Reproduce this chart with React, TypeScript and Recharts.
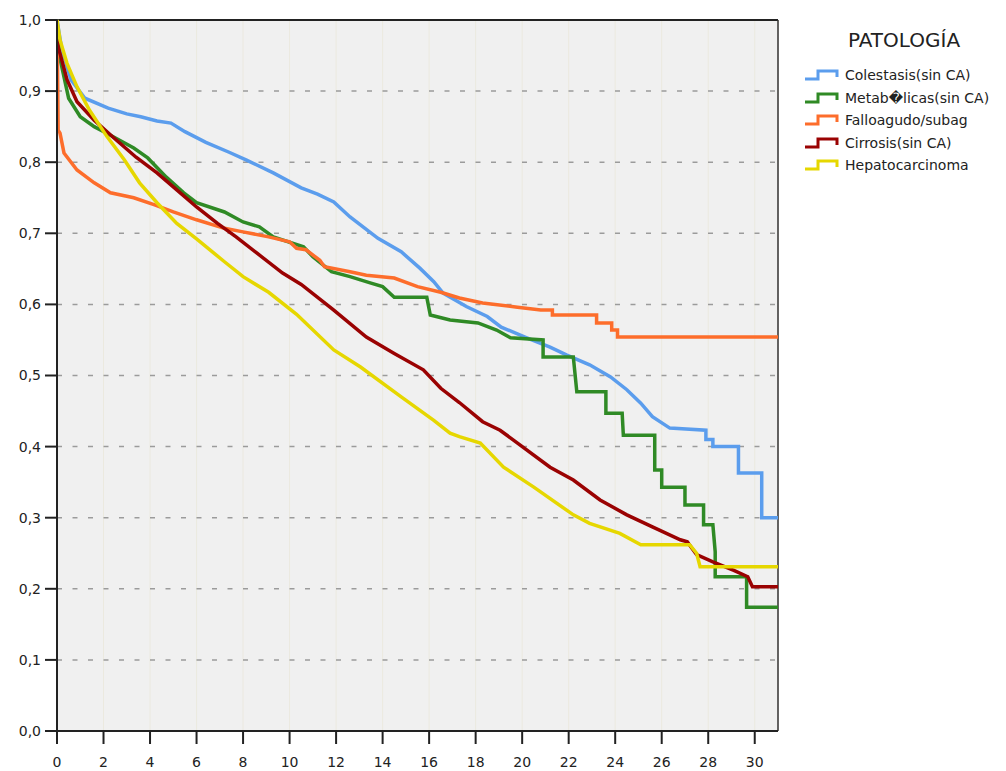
import React from 'react';
import { LineChart, Line, XAxis, YAxis, CartesianGrid, ReferenceLine } from 'recharts';

const SERIES_NAMES = ['Colestasis(sin CA)', 'Metab\uFFFDlicas(sin CA)', 'Falloagudo/subag', 'Cirrosis(sin CA)', 'Hepatocarcinoma'];
const SERIES_COLORS = ['#5b9ded', '#2f8a25', '#fd6d2b', '#9a0202', '#e6d700'];

const X_TICKS = [0, 2, 4, 6, 8, 10, 12, 14, 16, 18, 20, 22, 24, 26, 28, 30];
const Y_TICKS = [0, 0.1, 0.2, 0.3, 0.4, 0.5, 0.6, 0.7, 0.8, 0.9, 1];

// survival, time in the same units as the x axis
const COLESTASIS_T = [0, 0.2, 0.6, 1.2, 2.2, 3.0, 3.6, 4.3, 4.9, 5.5, 6.4, 7.4, 8.15, 9.3, 10.5, 11.2, 11.9, 12.6, 13.8, 14.8, 15.6, 16.2, 16.6, 17.6, 18.5, 19.1, 20.2, 21.2, 21.9, 22.9, 23.8, 24.5, 25.1, 25.6, 26.35, 27.9, 27.9, 28.2, 28.2, 29.3, 29.3, 30.3, 30.3, 31];
const COLESTASIS_S = [1.0, 0.96, 0.916, 0.89, 0.876, 0.868, 0.864, 0.858, 0.855, 0.843, 0.828, 0.814, 0.803, 0.785, 0.764, 0.755, 0.744, 0.723, 0.693, 0.674, 0.651, 0.632, 0.616, 0.597, 0.583, 0.568, 0.553, 0.54, 0.529, 0.515, 0.498, 0.48, 0.461, 0.442, 0.426, 0.423, 0.41, 0.41, 0.4, 0.4, 0.363, 0.363, 0.3, 0.3];

const METABOLICAS_T = [0, 0.1, 0.5, 1.0, 1.6, 2.3, 3.3, 3.9, 4.7, 5.45, 6.0, 7.2, 8.0, 8.7, 9.3, 10.6, 11.0, 11.8, 12.6, 13.5, 14.0, 14.5, 15.9, 16.05, 16.9, 18.1, 18.9, 19.5, 20.9, 20.9, 22.2, 22.35, 23.6, 23.6, 24.3, 24.35, 25.7, 25.7, 26.0, 26.0, 27.0, 27.0, 27.8, 27.8, 28.2, 28.3, 28.3, 29.65, 29.65, 31];
const METABOLICAS_S = [1.0, 0.95, 0.89, 0.864, 0.85, 0.838, 0.82, 0.806, 0.779, 0.757, 0.743, 0.73, 0.716, 0.709, 0.695, 0.681, 0.667, 0.646, 0.639, 0.63, 0.625, 0.61, 0.61, 0.585, 0.578, 0.574, 0.564, 0.553, 0.55, 0.526, 0.526, 0.477, 0.477, 0.447, 0.447, 0.416, 0.416, 0.367, 0.367, 0.343, 0.343, 0.318, 0.318, 0.29, 0.29, 0.252, 0.217, 0.217, 0.174, 0.174];

const FALLO_T = [0, 0.05, 0.13, 0.3, 0.86, 1.6, 2.3, 3.3, 4.2, 5.0, 6.0, 7.2, 8.0, 9.1, 10.0, 10.3, 10.7, 11.3, 11.5, 12.6, 13.3, 14.5, 15.5, 16.5, 17.3, 18.3, 19.8, 20.8, 21.3, 21.3, 23.2, 23.2, 23.85, 23.85, 24.1, 24.1, 31];
const FALLO_S = [1.0, 0.845, 0.841, 0.813, 0.789, 0.771, 0.757, 0.75, 0.74, 0.73, 0.719, 0.707, 0.702, 0.695, 0.688, 0.679, 0.677, 0.662, 0.653, 0.646, 0.641, 0.637, 0.625, 0.617, 0.609, 0.602, 0.596, 0.592, 0.592, 0.585, 0.585, 0.574, 0.574, 0.564, 0.564, 0.554, 0.554];

const CIRROSIS_T = [0, 0.05, 0.13, 0.43, 0.86, 1.6, 2.45, 3.4, 4.3, 5.15, 6.0, 6.9, 7.7, 8.6, 9.7, 10.5, 11.9, 13.3, 14.5, 15.75, 16.5, 17.3, 18.3, 19.05, 19.8, 21.2, 22.2, 23.35, 24.5, 25.6, 26.8, 27.1, 27.5, 28.2, 29.1, 29.7, 29.9, 31];
const CIRROSIS_S = [1.0, 0.962, 0.953, 0.916, 0.885, 0.859, 0.834, 0.807, 0.785, 0.761, 0.737, 0.714, 0.695, 0.672, 0.644, 0.628, 0.592, 0.554, 0.531, 0.508, 0.482, 0.462, 0.435, 0.423, 0.405, 0.371, 0.353, 0.325, 0.304, 0.287, 0.269, 0.266, 0.248, 0.238, 0.226, 0.217, 0.203, 0.203];

const HEPATO_T = [0, 0.13, 0.43, 0.86, 1.4, 2.15, 2.9, 3.55, 4.3, 5.15, 6.0, 7.2, 8.0, 9.1, 10.3, 11.9, 13.05, 14.8, 16.2, 16.9, 17.3, 18.2, 19.2, 20.5, 22.2, 22.9, 24.2, 25.1, 27.2, 27.5, 27.65, 31];
const HEPATO_S = [1.0, 0.972, 0.939, 0.906, 0.873, 0.836, 0.803, 0.771, 0.743, 0.714, 0.692, 0.66, 0.639, 0.617, 0.586, 0.536, 0.512, 0.47, 0.437, 0.419, 0.414, 0.405, 0.371, 0.343, 0.304, 0.292, 0.278, 0.262, 0.262, 0.25, 0.231, 0.231];

const toPoints = (ts: number[], ss: number[]) => ts.map((t, i) => ({ t, s: ss[i] }));

const SERIES = [
  toPoints(COLESTASIS_T, COLESTASIS_S),
  toPoints(METABOLICAS_T, METABOLICAS_S),
  toPoints(FALLO_T, FALLO_S),
  toPoints(CIRROSIS_T, CIRROSIS_S),
  toPoints(HEPATO_T, HEPATO_S),
];

const FONT = '"DejaVu Sans", sans-serif';
const tickStyle = { fontSize: 14, fill: '#222', fontFamily: FONT };

const StepIcon = ({ color }: { color: string }) => (
  <svg width={36} height={14} style={{ display: 'block' }}>
    <path d="M1,11 H14 V3 H33 V9" fill="none" stroke={color} strokeWidth={3} />
  </svg>
);

const LegendBox = () => (
  <div style={{ position: 'absolute', left: 804, top: 24, fontFamily: FONT, color: '#222' }}>
    <div style={{ width: 200, textAlign: 'center', fontSize: 20, height: 40, lineHeight: '32px' }}>PATOLOGÍA</div>
    {SERIES_NAMES.map((name, i) => (
      <div key={name} style={{ display: 'flex', alignItems: 'center', height: 22.5, fontSize: 14 }}>
        <StepIcon color={SERIES_COLORS[i]} />
        <span style={{ marginLeft: 5, whiteSpace: 'nowrap' }}>{name}</span>
      </div>
    ))}
  </div>
);

export default function App() {
  return (
    <div style={{ position: 'absolute', left: 0, top: 0, width: 1006, height: 771, background: '#fff' }}>
      <LineChart width={1006} height={771} margin={{ top: 20, right: 228, bottom: 0, left: 0 }}>
        <CartesianGrid fill="#f0f0f0" horizontal={false} stroke="#ebe9df" strokeWidth={1} />
        <CartesianGrid vertical={false} stroke="#9b9b9b" strokeDasharray="5 10.5" strokeWidth={1.5} />
        <XAxis
          dataKey="t"
          type="number"
          domain={[0, 31]}
          ticks={X_TICKS}
          allowDataOverflow
          height={40}
          tickSize={13}
          tickMargin={13}
          tick={tickStyle}
          stroke="#222"
          strokeWidth={2}
          tickLine={{ stroke: '#222', strokeWidth: 2 }}
        />
        <YAxis
          type="number"
          domain={[0, 1]}
          ticks={Y_TICKS}
          width={57}
          tickSize={12}
          tickMargin={4}
          tick={tickStyle}
          tickFormatter={(v: number) => v.toFixed(1).replace('.', ',')}
          stroke="#222"
          strokeWidth={2}
          tickLine={{ stroke: '#222', strokeWidth: 2 }}
        />
        <ReferenceLine y={1} stroke="#222" strokeWidth={2} />
        <ReferenceLine x={31} stroke="#333" strokeWidth={1.5} />
        {SERIES.map((pts, i) => (
          <Line
            key={SERIES_NAMES[i]}
            data={pts}
            dataKey="s"
            type="linear"
            stroke={SERIES_COLORS[i]}
            strokeWidth={3.5}
            dot={false}
            activeDot={false}
            isAnimationActive={false}
          />
        ))}
      </LineChart>
      <LegendBox />
    </div>
  );
}
